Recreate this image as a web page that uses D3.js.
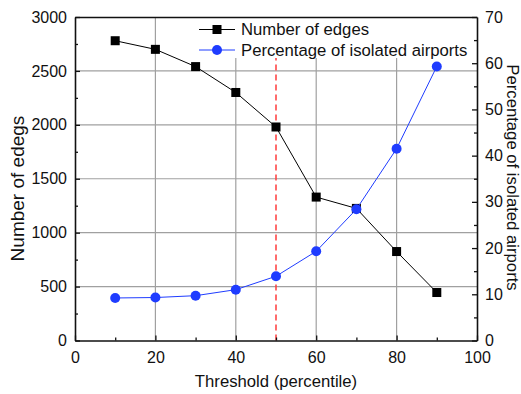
<!DOCTYPE html>
<html>
<head>
<meta charset="utf-8">
<script src="https://cdn.jsdelivr.net/npm/d3@7"></script>
<style>
  html, body { margin: 0; padding: 0; background: #fff; }
  svg { display: block; font-family: "Liberation Sans", Arial, sans-serif; }
</style>
</head>
<body>
<svg id="chart" width="521" height="394"></svg>
<script>
// Threshold levels (percentile)
const thresholds = [10, 20, 30, 40, 50, 60, 70, 80, 90];
// Number of edges kept at each threshold
const edgeCounts = [2780, 2700, 2540, 2300, 1980, 1330, 1225, 825, 445];
// Percentage of airports left isolated
const isolatedPct = [9.2, 9.3, 9.7, 11.0, 13.9, 19.3, 28.4, 41.5, 59.3];

const xTicks = [0, 20, 40, 60, 80, 100];
const xMinor = [10, 30, 50, 70, 90];
const yLeftTicks = [0, 500, 1000, 1500, 2000, 2500, 3000];
const yLeftMinor = [250, 750, 1250, 1750, 2250, 2750];
const yRightTicks = [0, 10, 20, 30, 40, 50, 60, 70];
const yRightMinor = [5, 15, 25, 35, 45, 55, 65];
const cutoff = 50;

const seriesNames = ["Number of edges", "Percentage of isolated airports"];

const m = { left: 75, right: 477, top: 17, bottom: 340.5 };
const svg = d3.select("#chart");

const x = d3.scaleLinear().domain([0, 100]).range([m.left, m.right]);
const yL = d3.scaleLinear().domain([0, 3000]).range([m.bottom, m.top]);
const yR = d3.scaleLinear().domain([0, 70]).range([m.bottom, m.top]);

const gridColor = "#a0a0a0";
const fmt = d3.format("d");

// grid
const grid = svg.append("g");
grid.selectAll("line.h").data(yLeftTicks.filter(d => d > 0 && d < 3000)).join("line")
  .attr("x1", m.left).attr("x2", m.right)
  .attr("y1", d => yL(d)).attr("y2", d => yL(d))
  .attr("stroke", gridColor).attr("stroke-width", 1.2);
grid.selectAll("line.v").data(xTicks.filter(d => d > 0 && d < 100)).join("line")
  .attr("y1", m.top).attr("y2", m.bottom)
  .attr("x1", d => x(d)).attr("x2", d => x(d))
  .attr("stroke", gridColor).attr("stroke-width", 1.2);

// cutoff marker
svg.append("line")
  .attr("x1", x(cutoff)).attr("x2", x(cutoff))
  .attr("y1", m.bottom).attr("y2", m.top)
  .attr("stroke", "#ff3b3b").attr("stroke-width", 1.5)
  .attr("stroke-dasharray", "6,4");

// legend background
svg.append("rect")
  .attr("x", 194).attr("y", m.top + 1).attr("width", 282).attr("height", 40)
  .attr("fill", "#fff");

// axes
const axisColor = "#111";
const fs = "16px";
const fsTitle = "16.7px";

function styleAxis(g) {
  g.select(".domain").attr("stroke", axisColor).attr("stroke-width", 1.6);
  g.selectAll(".tick line").attr("stroke", axisColor).attr("stroke-width", 1.3);
  g.selectAll(".tick text").attr("fill", "#111").style("font-size", fs);
}
function minorTicks(g) {
  g.select(".domain").remove();
  g.selectAll(".tick line").attr("stroke", axisColor).attr("stroke-width", 1.3);
}

const xAxis = svg.append("g").attr("transform", `translate(0,${m.bottom})`)
  .call(d3.axisBottom(x).tickValues(xTicks).tickFormat(fmt).tickSizeInner(-5).tickSizeOuter(0).tickPadding(9));
styleAxis(xAxis);
xAxis.selectAll(".tick text").attr("dy", "0.85em");
svg.append("g").attr("transform", `translate(0,${m.bottom})`)
  .call(d3.axisBottom(x).tickValues(xMinor).tickSize(-3).tickFormat(""))
  .call(minorTicks);

const xTop = svg.append("g").attr("transform", `translate(0,${m.top})`)
  .call(d3.axisTop(x).tickValues([]).tickSizeOuter(0));
styleAxis(xTop);

const yAxisL = svg.append("g").attr("transform", `translate(${m.left},0)`)
  .call(d3.axisLeft(yL).tickValues(yLeftTicks).tickFormat(fmt).tickSizeInner(-5).tickSizeOuter(0).tickPadding(8));
styleAxis(yAxisL);
svg.append("g").attr("transform", `translate(${m.left},0)`)
  .call(d3.axisLeft(yL).tickValues(yLeftMinor).tickSize(-3).tickFormat(""))
  .call(minorTicks);

const yAxisR = svg.append("g").attr("transform", `translate(${m.right},0)`)
  .call(d3.axisRight(yR).tickValues(yRightTicks).tickFormat(fmt).tickSizeInner(-5).tickSizeOuter(0).tickPadding(8));
styleAxis(yAxisR);
svg.append("g").attr("transform", `translate(${m.right},0)`)
  .call(d3.axisRight(yR).tickValues(yRightMinor).tickSize(-3).tickFormat(""))
  .call(minorTicks);

// axis titles
svg.append("text")
  .attr("transform", `translate(24,188.5) rotate(-90)`)
  .attr("text-anchor", "middle").style("font-size", "19px").attr("fill", "#111")
  .text("Number of edegs");
svg.append("text")
  .attr("transform", `translate(507,177.5) rotate(90)`)
  .attr("text-anchor", "middle").style("font-size", fsTitle).attr("fill", "#111")
  .text("Percentage of isolated airports");
svg.append("text")
  .attr("x", (m.left + m.right) / 2).attr("y", 387)
  .attr("text-anchor", "middle").style("font-size", fsTitle).attr("fill", "#111")
  .text("Threshold (percentile)");

// series
const blue = "#1f3cff";
const edges = thresholds.map((t, i) => ({ t, v: edgeCounts[i] }));
const pct = thresholds.map((t, i) => ({ t, v: isolatedPct[i] }));

svg.append("path").datum(edges)
  .attr("fill", "none").attr("stroke", "#000").attr("stroke-width", 1)
  .attr("d", d3.line().x(d => x(d.t)).y(d => yL(d.v)));
svg.append("g").selectAll("rect").data(edges).join("rect")
  .attr("x", d => x(d.t) - 4.5).attr("y", d => yL(d.v) - 4.5)
  .attr("width", 9).attr("height", 9).attr("fill", "#000");

svg.append("path").datum(pct)
  .attr("fill", "none").attr("stroke", blue).attr("stroke-width", 1)
  .attr("d", d3.line().x(d => x(d.t)).y(d => yR(d.v)));
svg.append("g").selectAll("circle").data(pct).join("circle")
  .attr("cx", d => x(d.t)).attr("cy", d => yR(d.v)).attr("r", 5)
  .attr("fill", blue);

// legend
const lg = svg.append("g");
const rows = [
  { name: seriesNames[0], color: "#000", shape: "square", y: 29.5 },
  { name: seriesNames[1], color: blue, shape: "circle", y: 50 }
];
rows.forEach(r => {
  lg.append("line").attr("x1", 199).attr("x2", 235).attr("y1", r.y).attr("y2", r.y)
    .attr("stroke", r.color).attr("stroke-width", 1);
  if (r.shape === "square") {
    lg.append("rect").attr("x", 217 - 4.5).attr("y", r.y - 4.5).attr("width", 9).attr("height", 9).attr("fill", r.color);
  } else {
    lg.append("circle").attr("cx", 217).attr("cy", r.y).attr("r", 5).attr("fill", r.color);
  }
  lg.append("text").attr("x", 241).attr("y", r.y).attr("dy", "0.35em")
    .style("font-size", fsTitle).attr("fill", "#111").text(r.name);
});
</script>
</body>
</html>
